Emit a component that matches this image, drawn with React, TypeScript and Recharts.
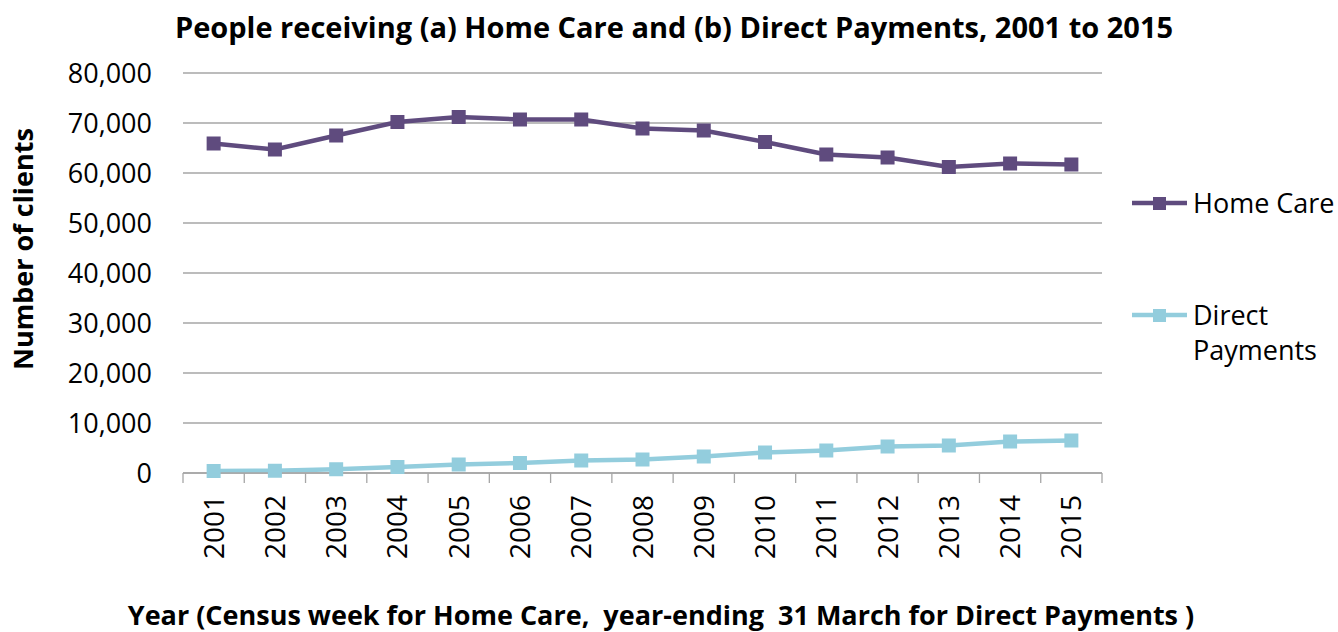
import { LineChart, Line, XAxis, YAxis, CartesianGrid } from "recharts"

const years = ["2001", "2002", "2003", "2004", "2005", "2006", "2007", "2008", "2009", "2010", "2011", "2012", "2013", "2014", "2015"]
const homeCare = [65900, 64700, 67500, 70200, 71200, 70700, 70700, 68900, 68500, 66200, 63700, 63100, 61200, 61900, 61700]
const directPayments = [400, 450, 750, 1200, 1700, 2000, 2500, 2700, 3300, 4100, 4500, 5300, 5500, 6300, 6500]
const yTicks = [0, 10000, 20000, 30000, 40000, 50000, 60000, 70000, 80000]

const data = years.map((year, i) => ({ year, homeCare: homeCare[i], direct: directPayments[i] }))

const FONT = "'Open Sans', sans-serif"
const W = 1338
const H = 632
const margin = { top: 73, right: 236, left: 0, bottom: 0 }
const yAxisW = 183
const xAxisH = 159
const half = (W - margin.right - yAxisW) / years.length / 2

const purple = "#5f4b7e"
const blue = "#93cddd"
const grid = "#a6a6a6"

const square = (color: string) => (p: any) => {
  if (p.cx == null || p.cy == null) return <g key={p.index} />
  return <rect key={p.index} x={p.cx - 7} y={p.cy - 7} width={14} height={14} fill={color} />
}

function YearTick(props: any) {
  const { x, y, payload, index } = props
  const ty = y + 22
  const tx = x + 10
  return (
    <g>
      <line x1={x - half} x2={x - half} y1={y} y2={y + 10} stroke={grid} strokeWidth={1.3} />
      {index === years.length - 1 && (
        <line x1={x + half} x2={x + half} y1={y} y2={y + 10} stroke={grid} strokeWidth={1.3} />
      )}
      <text x={tx} y={ty} transform={`rotate(-90 ${tx} ${ty})`} textAnchor="end" fontSize={28} fill="#000" fontFamily={FONT}>
        {payload.value}
      </text>
    </g>
  )
}

export default function App() {
  return (
    <div style={{ position: "absolute", left: 0, top: 0, width: W, height: H, background: "#fff" }}>
      <LineChart width={W} height={H} data={data} margin={margin}>
        <CartesianGrid vertical={false} stroke={grid} strokeWidth={1.3} />
        <XAxis
          dataKey="year"
          height={xAxisH}
          padding={{ left: half, right: half }}
          axisLine={{ stroke: grid, strokeWidth: 1.3 }}
          tickLine={false}
          tickSize={0}
          tickMargin={0}
          interval={0}
          tick={<YearTick />}
        />
        <YAxis
          width={yAxisW}
          domain={[0, 80000]}
          ticks={yTicks}
          axisLine={false}
          tickLine={false}
          tickSize={0}
          tickMargin={31}
          tickFormatter={(v: number) => v.toLocaleString("en-US")}
          tick={{ fontSize: 27, fill: "#000", fontFamily: FONT }}
        />
        <Line type="linear" dataKey="homeCare" name="Home Care" stroke={purple} strokeWidth={4.5} dot={square(purple)} activeDot={false} isAnimationActive={false} />
        <Line type="linear" dataKey="direct" name="Direct Payments" stroke={blue} strokeWidth={4.5} dot={square(blue)} activeDot={false} isAnimationActive={false} />
      </LineChart>
      <svg width={W} height={H} style={{ position: "absolute", left: 0, top: 0, pointerEvents: "none" }} fontFamily={FONT}>
        <text x={674} y={38} textAnchor="middle" fontSize={29} fontWeight="bold" fill="#000">
          People receiving (a) Home Care and (b) Direct Payments, 2001 to 2015
        </text>
        <text x={661} y={625} textAnchor="middle" fontSize={27} fontWeight="bold" fill="#000" style={{ whiteSpace: "pre" }}>
          {"Year (Census week for Home Care,  year-ending  31 March for Direct Payments )"}
        </text>
        <text x={33} y={249} transform="rotate(-90 33 249)" textAnchor="middle" fontSize={27} fontWeight="bold" fill="#000">
          Number of clients
        </text>
        <line x1={1132} x2={1187} y1={203} y2={203} stroke={purple} strokeWidth={4.5} />
        <rect x={1153} y={197} width={13} height={13} fill={purple} />
        <text x={1193} y={213} fontSize={27} fill="#000">Home Care</text>
        <line x1={1132} x2={1187} y1={315} y2={315} stroke={blue} strokeWidth={4.5} />
        <rect x={1153} y={309} width={13} height={13} fill={blue} />
        <text x={1193} y={325} fontSize={27} fill="#000">Direct</text>
        <text x={1193} y={360} fontSize={27} fill="#000">Payments</text>
      </svg>
    </div>
  )
}
